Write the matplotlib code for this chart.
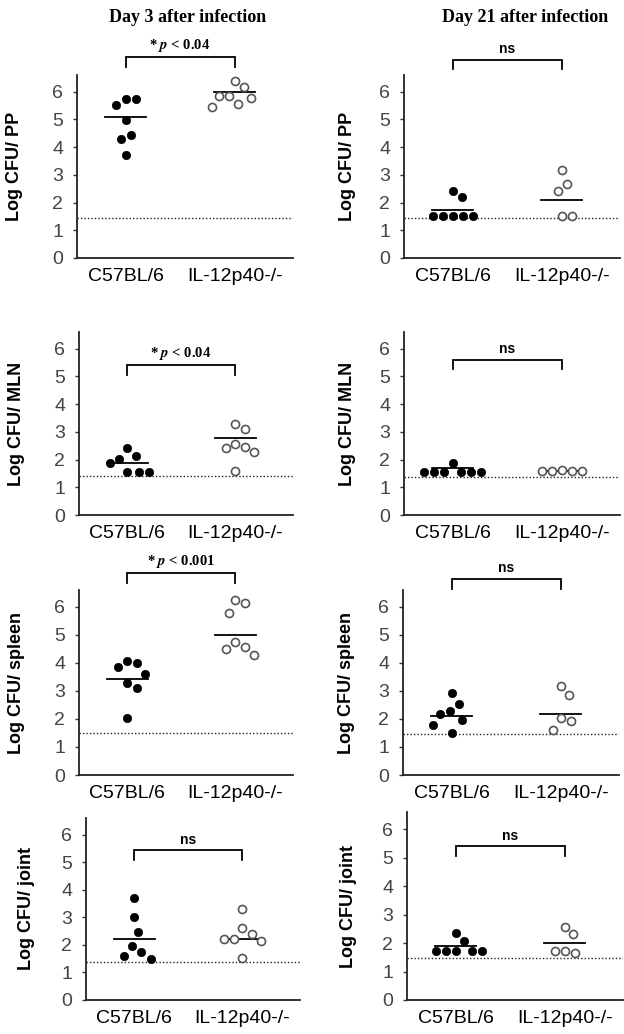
import numpy as np
import matplotlib
matplotlib.use("Agg")
import matplotlib.pyplot as plt

plt.rcParams['mathtext.fontset'] = 'stix'

# ---------------- data (log CFU) ----------------
groups = ["C57BL/6", "IL-12p40-/-"]
col_titles = ["Day 3 after infection", "Day 21 after infection"]

pp_d3_wt = [5.75, 5.75, 5.51, 4.96, 4.45, 4.29, 3.73]
pp_d3_ko = [6.38, 6.17, 5.86, 5.86, 5.76, 5.56, 5.45]
pp_d3_means = [5.08, 5.98]

pp_d21_wt = [2.42, 2.19, 1.51, 1.51, 1.51, 1.51, 1.51]
pp_d21_ko = [3.18, 2.66, 2.42, 1.50, 1.50]
pp_d21_means = [1.73, 2.08]

mln_d3_wt = [2.41, 2.12, 2.02, 1.86, 1.54, 1.54, 1.54]
mln_d3_ko = [3.30, 3.09, 2.57, 2.47, 2.41, 2.26, 1.58]
mln_d3_means = [1.86, 2.76]

mln_d21_wt = [1.89, 1.55, 1.55, 1.55, 1.55, 1.55, 1.55]
mln_d21_ko = [1.62, 1.57, 1.57, 1.57, 1.57]
mln_d21_means = [1.68, 1.58]

spl_d3_wt = [4.05, 3.98, 3.87, 3.59, 3.30, 3.10, 2.02]
spl_d3_ko = [6.26, 6.15, 5.77, 4.74, 4.56, 4.50, 4.27]
spl_d3_means = [3.44, 5.00]

spl_d21_wt = [2.93, 2.54, 2.27, 2.17, 1.96, 1.77, 1.51]
spl_d21_ko = [3.17, 2.87, 2.02, 1.94, 1.60]
spl_d21_means = [2.12, 2.19]

jnt_d3_wt = [3.71, 3.02, 2.46, 1.97, 1.74, 1.59, 1.48]
jnt_d3_ko = [3.30, 2.62, 2.40, 2.23, 2.23, 2.15, 1.52]
jnt_d3_means = [2.23, 2.23]

jnt_d21_wt = [2.35, 2.07, 1.72, 1.72, 1.72, 1.72, 1.72]
jnt_d21_ko = [2.58, 2.30, 1.73, 1.72, 1.65]
jnt_d21_means = [1.91, 1.99]

detection_limit = [1.45, 1.45, 1.41, 1.38, 1.49, 1.45, 1.38, 1.49]
ylabels = ["Log CFU/ PP", "Log CFU/ PP", "Log CFU/ MLN", "Log CFU/ MLN",
           "Log CFU/ spleen", "Log CFU/ spleen", "Log CFU/ joint", "Log CFU/ joint"]
sig_labels = ["* $\\mathbfit{p}$ < 0.04", "ns", "* $\\mathbfit{p}$ < 0.04", "ns",
              "* $\\mathbfit{p}$ < 0.001", "ns", "ns", "ns"]
yticks = [0, 1, 2, 3, 4, 5, 6]

wt_sets = [pp_d3_wt, pp_d21_wt, mln_d3_wt, mln_d21_wt, spl_d3_wt, spl_d21_wt, jnt_d3_wt, jnt_d21_wt]
ko_sets = [pp_d3_ko, pp_d21_ko, mln_d3_ko, mln_d21_ko, spl_d3_ko, spl_d21_ko, jnt_d3_ko, jnt_d21_ko]
mean_sets = [pp_d3_means, pp_d21_means, mln_d3_means, mln_d21_means,
             spl_d3_means, spl_d21_means, jnt_d3_means, jnt_d21_means]

# ---------------- layout ----------------
W, H = 624, 1034
rects_px = [(77, 75, 293, 258), (404, 75, 620, 258),
            (79, 332, 293, 515), (404, 332, 620, 515),
            (79, 590, 293, 775), (403, 590, 619, 775),
            (86, 818, 300, 1000), (407, 812, 623, 1000)]
bracket_top = [7.25, 7.15, 5.4, 5.6, 7.2, 7.0, 5.43, 5.4]
ylabel_x = [-0.25, -0.22, -0.25, -0.22, -0.25, -0.22, -0.24, -0.23]

fig = plt.figure(figsize=(W / 100, H / 100), dpi=100)

tick_font = dict(family=['Liberation Sans Narrow', 'Liberation Sans', 'DejaVu Sans'])


def swarm_x(ax, xc, vals, Dx=10.0, Dy=17.0):
    """Beeswarm layout with an elliptical exclusion zone (in pixels)."""
    pts = ax.transData.transform(np.column_stack([np.full(len(vals), xc), vals]))
    ppu = (ax.transData.transform([[1, 0]]) - ax.transData.transform([[0, 0]]))[0, 0]
    placed = []
    out = []

    def ok(c, py):
        return all(((c - qx) / Dx) ** 2 + ((py - qy) / Dy) ** 2 >= 1 - 1e-6
                   for qx, qy in placed)

    for _, py in pts:
        cands = [0.0]
        for qx, qy in placed:
            dy = py - qy
            if abs(dy) < Dy:
                dx = Dx * np.sqrt(1 - (dy / Dy) ** 2)
                cands += [qx + dx, qx - dx]
        cands.sort(key=abs)
        chosen = cands[-1]
        for c in cands:
            if ok(c, py):
                chosen = c
                break
        placed.append((chosen, py))
        out.append(xc + chosen / ppu)
    return out


for i in range(8):
    x0, y0, x1, y1 = rects_px[i]
    ax = fig.add_axes([x0 / W, 1 - y1 / H, (x1 - x0) / W, (y1 - y0) / H])
    ax.set_xlim(-0.445, 1.535)
    ax.set_ylim(0, 6.6)
    for s in ['top', 'right']:
        ax.spines[s].set_visible(False)
    for s in ['left', 'bottom']:
        ax.spines[s].set_color('#222222')
        ax.spines[s].set_linewidth(1.3)

    ax.set_yticks(yticks)
    ax.set_yticklabels([str(t) for t in yticks], fontsize=14, color='#444444', **tick_font)
    ax.tick_params(axis='y', length=3, width=1, color='#333333', pad=7, direction='out')
    ax.set_xticks([0, 1])
    ax.set_xticklabels(groups, fontsize=14, color='black',
                       family=['Liberation Sans', 'DejaVu Sans'])
    ax.tick_params(axis='x', length=0, pad=7)

    ax.set_ylabel(ylabels[i], fontsize=13, fontweight='bold',
                  family=['Liberation Sans', 'DejaVu Sans'])
    ax.yaxis.set_label_coords(ylabel_x[i], 0.5)

    # detection limit
    ax.axhline(detection_limit[i], color='#222222', lw=1.0, ls=(0, (1, 1.5)), zorder=1)

    # dots
    xs_wt = swarm_x(ax, 0, wt_sets[i])
    ax.plot(xs_wt, wt_sets[i], 'o', ms=6, mfc='black', mec='black', mew=0.5,
            ls='none', zorder=3)
    xs_ko = swarm_x(ax, 1, ko_sets[i])
    ax.plot(xs_ko, ko_sets[i], 'o', ms=5.8, mfc='white', mec='#555555', mew=1.2,
            ls='none', zorder=3)

    # mean lines
    for g, m in enumerate(mean_sets[i]):
        ax.plot([g - 0.19, g + 0.19], [m, m], color='black', lw=1.3, zorder=2)

    # bracket
    bt = bracket_top[i]
    ax.plot([0, 0, 1, 1], [bt - 0.35, bt, bt, bt - 0.35], color='black', lw=1.3,
            clip_on=False, solid_joinstyle='miter')
    if sig_labels[i] == 'ns':
        ax.text(0.5, bt + 0.12, 'ns', ha='center', va='bottom', fontsize=10,
                fontweight='bold', family=['Liberation Sans', 'DejaVu Sans'], clip_on=False)
    else:
        ax.text(0.5, bt + 0.12, sig_labels[i], ha='center', va='bottom', fontsize=10.5,
                fontweight='bold', family=['Liberation Serif', 'DejaVu Serif'], clip_on=False)

for j, t in enumerate(col_titles):
    fig.text([188, 525][j] / W, 1 - 17 / H, t, ha='center', va='center', fontsize=13,
             fontweight='bold', family=['Liberation Serif', 'DejaVu Serif'])

fig.savefig('out.png', dpi=100, facecolor='white')
